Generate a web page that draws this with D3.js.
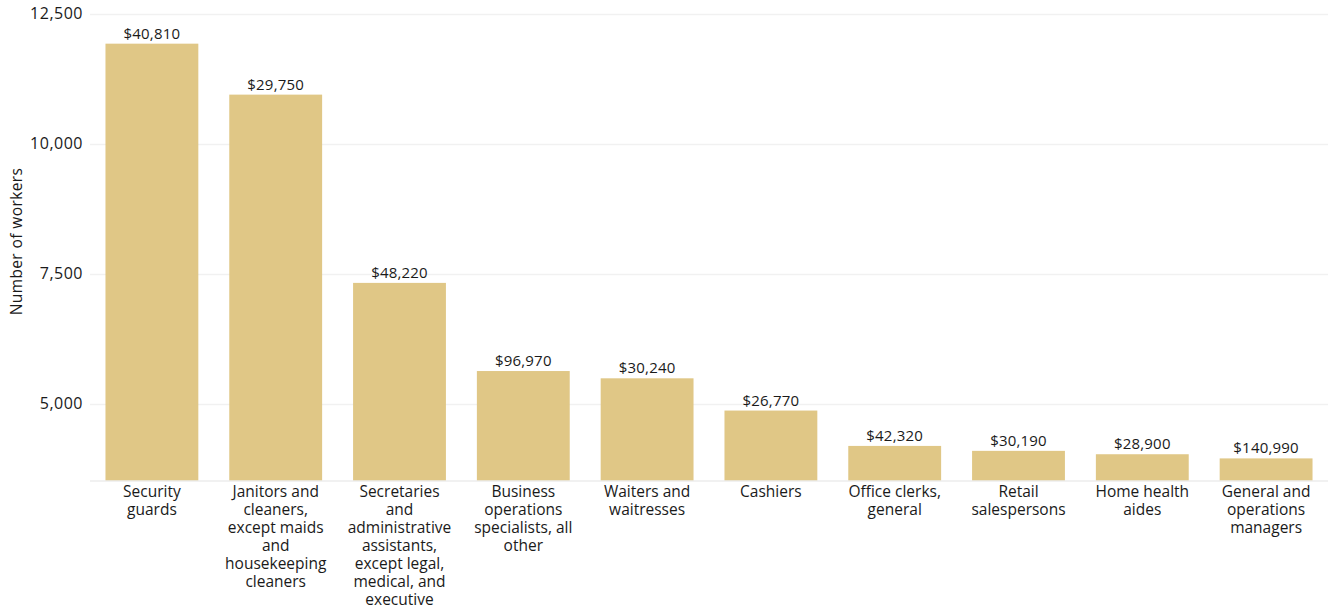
<!DOCTYPE html>
<html>
<head>
<meta charset="utf-8">
<script src="https://cdn.jsdelivr.net/npm/d3@7"></script>
<style>
  html, body { margin: 0; padding: 0; background: #fff; }
  svg { display: block; font-family: "Open Sans", "Noto Sans", sans-serif; }
</style>
</head>
<body>
<svg id="chart" width="1331" height="607"></svg>
<script>
// Occupations (line breaks marked with "|")
const occupations = [
  "Security|guards",
  "Janitors and|cleaners,|except maids|and|housekeeping|cleaners",
  "Secretaries|and|administrative|assistants,|except legal,|medical, and|executive",
  "Business|operations|specialists, all|other",
  "Waiters and|waitresses",
  "Cashiers",
  "Office clerks,|general",
  "Retail|salespersons",
  "Home health|aides",
  "General and|operations|managers"
];

// Number of workers in each occupation
const workers = [11920, 10940, 7320, 5625, 5485, 4865, 4185, 4090, 4025, 3945];

// Annual wage shown above each bar
const wages = ["$40,810", "$29,750", "$48,220", "$96,970", "$30,240",
               "$26,770", "$42,320", "$30,190", "$28,900", "$140,990"];

// Y-axis tick values
const yTicks = [5000, 7500, 10000, 12500];

const FONT = "'Open Sans', 'Noto Sans', sans-serif";
const INK = "#1a1a1a";

const svg = d3.select("#chart");
const margin = { left: 90, right: 3, top: 13.5, bottom: 126.5 };
const W = 1331, H = 607;

const x = d3.scaleBand()
  .domain(occupations)
  .range([margin.left, W - margin.right])
  .paddingInner(0.25)
  .paddingOuter(0.125);

const y = d3.scaleLinear()
  .domain([3520, 12500])
  .range([H - margin.bottom, margin.top]);

// Horizontal gridlines
svg.append("g")
  .selectAll("line")
  .data(yTicks)
  .join("line")
  .attr("x1", margin.left)
  .attr("x2", W - margin.right)
  .attr("y1", d => Math.round(y(d)) + 0.5)
  .attr("y2", d => Math.round(y(d)) + 0.5)
  .attr("stroke", "#f1f1f1")
  .attr("stroke-width", 1.5);

// Bars
svg.append("g")
  .selectAll("rect")
  .data(occupations)
  .join("rect")
  .attr("x", d => x(d))
  .attr("width", x.bandwidth())
  .attr("y", (d, i) => y(workers[i]))
  .attr("height", (d, i) => y.range()[0] - y(workers[i]))
  .attr("fill", "#e0c786");

// Baseline
svg.append("line")
  .attr("x1", margin.left)
  .attr("x2", W - margin.right)
  .attr("y1", y.range()[0] + 0.5)
  .attr("y2", y.range()[0] + 0.5)
  .attr("stroke", "#e3e3e3")
  .attr("stroke-width", 1);

// Wage labels
svg.append("g")
  .selectAll("text")
  .data(occupations)
  .join("text")
  .attr("x", d => x(d) + x.bandwidth() / 2)
  .attr("y", (d, i) => y(workers[i]) - 5)
  .attr("text-anchor", "middle")
  .attr("font-size", 15)
  .attr("letter-spacing", 0.2)
  .attr("fill", INK)
  .text((d, i) => wages[i]);

// Y axis
const yAxis = d3.axisLeft(y)
  .tickValues(yTicks)
  .tickSize(0)
  .tickPadding(7)
  .tickFormat(d3.format(","));

const ya = svg.append("g")
  .attr("transform", `translate(${margin.left},0)`)
  .call(yAxis);
ya.select(".domain").remove();
ya.selectAll("text")
  .attr("font-size", 16)
  .attr("letter-spacing", 0.5)
  .attr("font-family", FONT)
  .attr("fill", INK);

// X axis with wrapped category labels
const xAxis = d3.axisBottom(x).tickSize(0).tickPadding(0).tickFormat("");
const xa = svg.append("g")
  .attr("transform", `translate(0,${y.range()[0]})`)
  .call(xAxis);
xa.select(".domain").remove();
xa.selectAll(".tick").each(function(d) {
  const t = d3.select(this).append("text")
    .attr("text-anchor", "middle")
    .attr("font-size", 15.5)
    .attr("font-family", FONT)
    .attr("fill", INK)
    .attr("y", 16);
  d.split("|").forEach((line, k) => {
    t.append("tspan")
      .attr("x", 0)
      .attr("dy", k === 0 ? 0 : 18)
      .text(line);
  });
});

// Y axis title
svg.append("text")
  .attr("transform", `translate(22,241.5) rotate(-90)`)
  .attr("text-anchor", "middle")
  .attr("font-size", 15.5)
  .attr("letter-spacing", 0.4)
  .attr("fill", INK)
  .text("Number of workers");
</script>
</body>
</html>
